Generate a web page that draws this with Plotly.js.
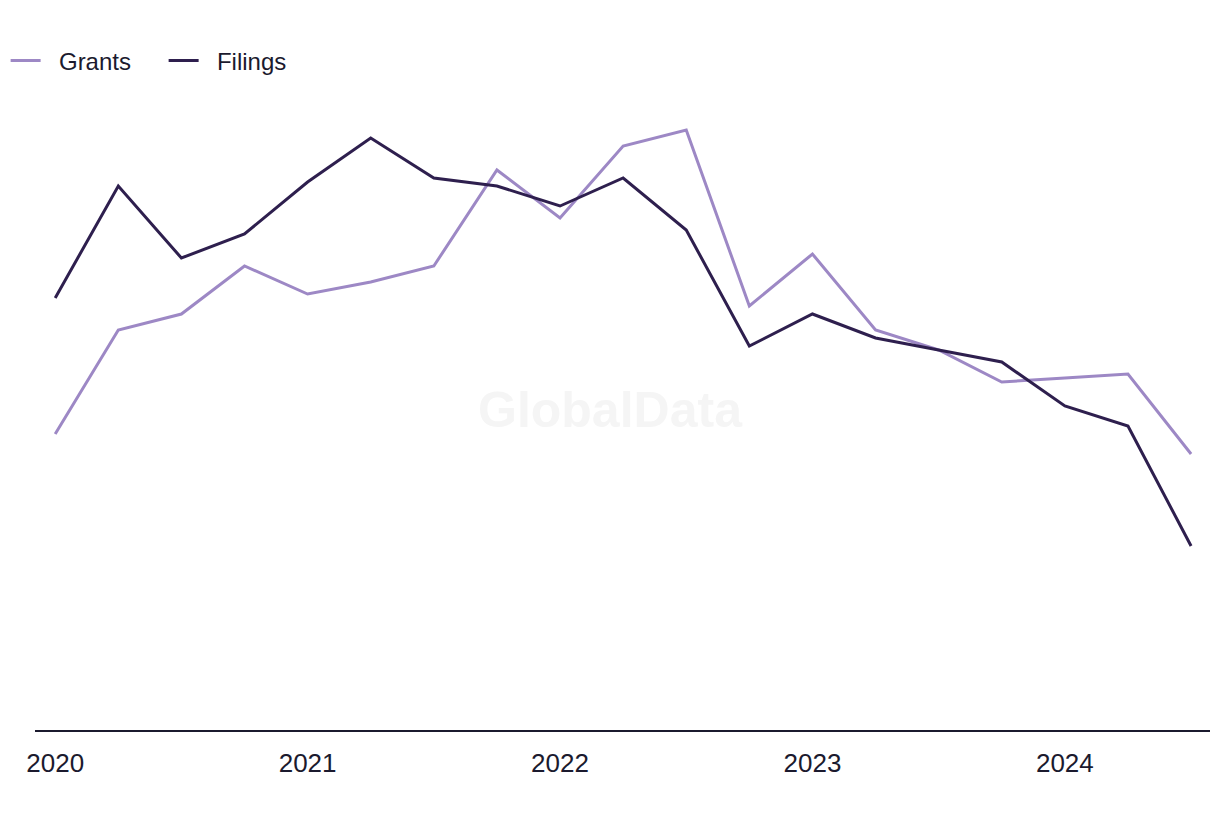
<!DOCTYPE html>
<html>
<head>
<meta charset="utf-8">
<script src="https://cdn.plot.ly/plotly-3.0.1.min.js"></script>
<style>html,body{margin:0;padding:0;background:#fff;}#chart{width:1220px;height:820px;}</style>
</head>
<body>
<div id="chart"></div>
<script>
const quarters = ["2020 Q1","2020 Q2","2020 Q3","2020 Q4","2021 Q1","2021 Q2","2021 Q3","2021 Q4","2022 Q1","2022 Q2","2022 Q3","2022 Q4","2023 Q1","2023 Q2","2023 Q3","2023 Q4","2024 Q1","2024 Q2","2024 Q3"];
const grants = [74,100,104,116,109,112,116,140,128,146,150,106,119,100,95,87,88,89,69];
const filings = [108,136,118,124,137,148,138,136,131,138,125,96,104,98,95,92,81,76,46];
const tickVals = ["2020 Q1","2021 Q1","2022 Q1","2023 Q1","2024 Q1"];
const tickText = ["2020","2021","2022","2023","2024"];

const pad = "\u00a0\u00a0";
const traces = [
  {x: quarters, y: grants, name: pad + "Grants", type: "scatter", mode: "lines",
   line: {color: "#9d88c5", width: 3}},
  {x: quarters, y: filings, name: pad + "Filings", type: "scatter", mode: "lines",
   line: {color: "#2e1f4e", width: 3}}
];
const layout = {
  width: 1220, height: 820,
  margin: {l: 35, r: 10, t: 100, b: 90, autoexpand: false},
  paper_bgcolor: "#fff", plot_bgcolor: "#fff",
  font: {family: "'Liberation Sans', Arial, sans-serif", color: "#1b1a2e", size: 22},
  showlegend: true,
  legend: {orientation: "h", x: -0.025, xanchor: "left", y: 1.062, yanchor: "middle",
           font: {size: 24, color: "#1b1a2e"}, entrywidth: 113, entrywidthmode: "pixels",
           traceorder: "normal"},
  xaxis: {type: "category", range: [-0.32, 18.3], tickvals: tickVals, ticktext: tickText,
          showgrid: false, zeroline: false, showline: true, linecolor: "#1b1a2e", linewidth: 2,
          ticks: "", ticklabelstandoff: 9, tickfont: {size: 26, color: "#1b1a2e"}, fixedrange: true},
  yaxis: {range: [0, 157.5], showgrid: false, zeroline: false, showline: false,
          showticklabels: false, ticks: ""},
  annotations: [{text: "<b>GlobalData</b>", x: 0.5, y: 0.5, xref: "paper", yref: "paper",
                 xanchor: "center", yanchor: "middle", showarrow: false,
                 font: {size: 50, color: "#f5f5f5", family: "'Liberation Sans', Arial, sans-serif"}}]
};
// convert watermark pixel position to paper coords
layout.annotations[0].x = (610 - 35) / (1220 - 45);
layout.annotations[0].y = (730 - 410) / (730 - 100);
Plotly.newPlot("chart", traces, layout, {displayModeBar: false, staticPlot: true});
</script>
</body>
</html>
